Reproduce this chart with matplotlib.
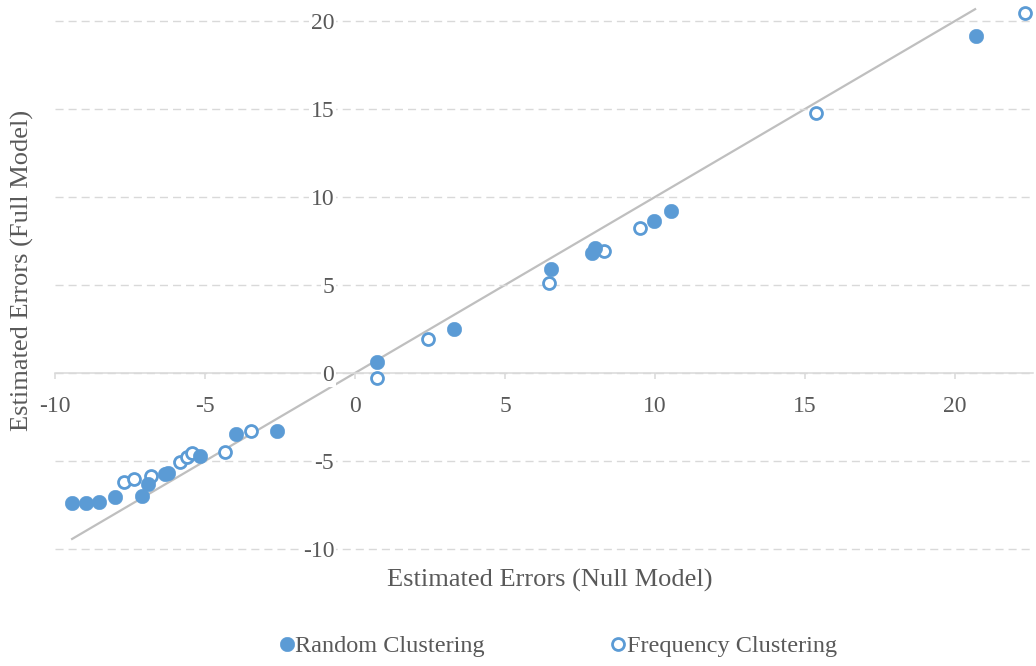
import matplotlib
matplotlib.use("Agg")
import matplotlib.pyplot as plt

# Geschätzte Fehler
random_null = [-9.43, -8.97, -8.53, -8.0, -7.1, -6.9, -6.35, -6.22, -5.17, -3.97, -2.6,
               0.73, 3.3, 6.53, 7.9, 8.0, 9.97, 10.53, 20.7]
random_full = [-7.39, -7.39, -7.33, -7.05, -6.99, -6.3, -5.72, -5.66, -4.72, -3.47, -3.3,
               0.6, 2.5, 5.9, 6.8, 7.12, 8.64, 9.22, 19.15]

freq_null = [-7.7, -7.37, -6.8, -5.83, -5.6, -5.43, -4.33, -3.47, 0.73, 2.43,
             6.47, 8.3, 9.5, 15.37, 22.33]
freq_full = [-6.2, -6.0, -5.85, -5.05, -4.77, -4.57, -4.47, -3.3, -0.28, 1.93,
             5.1, 6.93, 8.22, 14.77, 20.45]

diag = [-9.43, 20.67]

x_ticks = [-10, -5, 0, 5, 10, 15, 20]
y_ticks = [-10, -5, 0, 5, 10, 15, 20]

blue = '#5B9BD5'
grey_txt = '#595959'
light = '#D9D9D9'

plt.rcParams['font.family'] = ['Liberation Serif', 'DejaVu Serif']

fig = plt.figure(figsize=(10.36, 6.66), dpi=100)
# 30 px pro x-Einheit, 17.6 px pro y-Einheit
ax = fig.add_axes([55/1036, 1 - 552.5/666, 978/1036, 31.2*17.6/666])

ax.plot(diag, diag, color='#BFBFBF', lw=1.6, zorder=2)
h2, = ax.plot(freq_null, freq_full, 'o', ms=8.6, mew=2.0, mec=blue, mfc='white',
              ls='none', zorder=3, label='Frequency Clustering')
h1, = ax.plot(random_null, random_full, 'o', ms=10.5, mew=0.3, mec=blue, mfc=blue,
              ls='none', zorder=4, label='Random Clustering')

ax.set_xlim(-10, 22.6)
ax.set_ylim(-10.2, 21)
ax.set_xticks(x_ticks)
ax.set_yticks(y_ticks)
ax.set_xticklabels([str(v) for v in x_ticks])
ax.set_yticklabels([str(v) for v in y_ticks])

ax.set_axisbelow(False)
for s in ['top', 'right']:
    ax.spines[s].set_visible(False)
ax.spines['left'].set_position(('data', 0))
ax.spines['left'].set_visible(False)
ax.spines['bottom'].set_position(('data', 0))
ax.spines['bottom'].set_color(light)
ax.spines['bottom'].set_linewidth(1.1)

ax.yaxis.grid(True, color=light, lw=1.0, dashes=(5.8, 3.6))
ax.tick_params(axis='y', length=0, pad=15, labelsize=17, labelcolor=grey_txt)
ax.tick_params(axis='x', length=4.5, width=1.1, color=light, pad=12,
               labelsize=17, labelcolor=grey_txt)
for lab in ax.get_yticklabels():
    lab.set_bbox(dict(facecolor='white', edgecolor='none', pad=1))

fig.text(550/1036, 1 - 580/666, 'Estimated Errors (Null Model)', ha='center', va='center',
         fontsize=19, color=grey_txt)
fig.text(22/1036, 1 - 270/666, 'Estimated Errors (Full Model)', ha='center', va='center',
         rotation=90, fontsize=19, color=grey_txt)

fig.legend(handles=[h1, h2], loc='center', bbox_to_anchor=(558/1036, 1 - 646/666),
           ncol=2, frameon=False, fontsize=17.5, handlelength=0.6, handletextpad=0.04,
           columnspacing=5.2, labelcolor=grey_txt)

fig.savefig('out.png', dpi=100)
